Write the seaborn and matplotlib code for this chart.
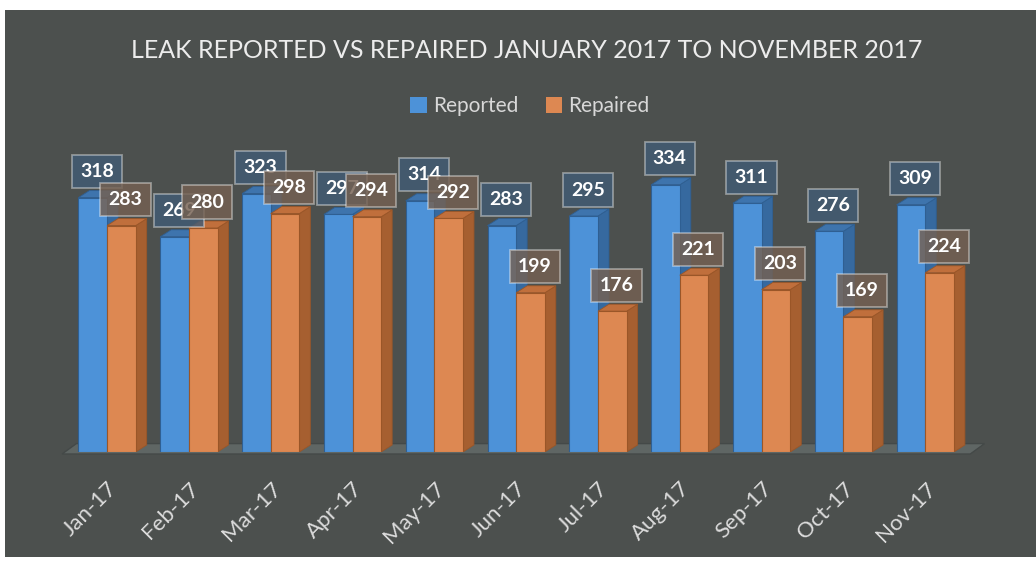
import numpy as np
import pandas as pd
import matplotlib
matplotlib.use("Agg")
import matplotlib.pyplot as plt
import seaborn as sns
from matplotlib.patches import Polygon, Rectangle, Patch

months = ["Jan-17", "Feb-17", "Mar-17", "Apr-17", "May-17", "Jun-17",
          "Jul-17", "Aug-17", "Sep-17", "Oct-17", "Nov-17"]
reported = [318, 269, 323, 297, 314, 283, 295, 334, 311, 276, 309]
repaired = [283, 280, 298, 294, 292, 199, 176, 221, 203, 169, 224]
series_names = ["Reported", "Repaired"]
title = "LEAK REPORTED VS REPAIRED JANUARY 2017 TO NOVEMBER 2017"

df = pd.DataFrame({
    "Month": months * 2,
    "Series": [series_names[0]] * len(months) + [series_names[1]] * len(months),
    "Count": reported + repaired,
})

BG = "#4c504e"
FRONT = ["#4d92d8", "#dd8852"]
SIDE = ["#36699f", "#a65f30"]
TOP = ["#3e74ad", "#c06f3c"]
EDGE = ["#2f5f92", "#9a5628"]
LABEL_BG = [(0.26, 0.36, 0.46, 0.82), (0.46, 0.38, 0.32, 0.82)]

sns.set_theme(style="white")
plt.rcParams["font.family"] = ["Lato", "DejaVu Sans"]

W, H = 1036, 567
fig = plt.figure(figsize=(W / 100, H / 100), dpi=100)
fig.patch.set_facecolor("white")
bg_rect = Rectangle((5 / W, 1 - 557 / H), 1 - 5 / W, (557 - 10) / H,
                    transform=fig.transFigure, facecolor=BG,
                    edgecolor="none", zorder=-10)
fig.patches.append(bg_rect)

# axes geometry (px)
ax_left, ax_right, ax_bottom, ax_top = 55, 985, 452, 140
ax = fig.add_axes([ax_left / W, 1 - ax_bottom / H,
                   (ax_right - ax_left) / W, (ax_bottom - ax_top) / H])
ax.set_facecolor("none")
ax.set_zorder(1)

sns.barplot(data=df, x="Month", y="Count", hue="Series",
            palette=FRONT, width=0.7, saturation=1, ax=ax, legend=True)

xmin, xmax = -0.636, 10.73
ymax = 390
ax.set_xlim(xmin, xmax)
ax.set_ylim(0, ymax)

# depth in data units
px_per_x = (ax_right - ax_left) / (xmax - xmin)
px_per_y = (ax_bottom - ax_top) / ymax
ddx = 11 / px_per_x
ddy = 7 / px_per_y

# floor
floor = Polygon([(-0.55, -2 / px_per_y), (10.55, -2 / px_per_y),
                 (10.55 + ddx * 1.3, ddy * 1.2), (-0.55 + ddx * 1.3, ddy * 1.2)],
                closed=True, facecolor="#5f6664", edgecolor="#444948",
                lw=1, zorder=0.5, clip_on=False)
ax.add_patch(floor)

for si, cont in enumerate(ax.containers):
    for p in cont.patches:
        x0, w, h = p.get_x(), p.get_width(), p.get_height()
        base_z = 1 + si * 2
        p.set_zorder(base_z + 1)
        p.set_edgecolor(EDGE[si])
        p.set_linewidth(0.8)
        side = Polygon([(x0 + w, 0), (x0 + w + ddx, ddy), (x0 + w + ddx, h + ddy),
                        (x0 + w, h)], closed=True, facecolor=SIDE[si],
                       edgecolor=EDGE[si], lw=0.6, zorder=base_z + 0.5)
        top = Polygon([(x0, h), (x0 + w, h), (x0 + w + ddx, h + ddy),
                       (x0 + ddx, h + ddy)], closed=True, facecolor=TOP[si],
                      edgecolor=EDGE[si], lw=0.6, zorder=base_z + 0.5)
        ax.add_patch(side)
        ax.add_patch(top)
        ax.annotate(f"{int(round(h))}", xy=(x0 + w / 2, h), xytext=(3, 18.7),
                    textcoords="offset points", ha="center", va="center",
                    fontsize=14, fontweight="bold", color="white", zorder=10,
                    bbox=dict(boxstyle="square,pad=0.42", fc=LABEL_BG[si],
                              ec=(1, 1, 1, 0.4), lw=1.3))

for sp in ax.spines.values():
    sp.set_visible(False)
ax.set_yticks([])
ax.set_xlabel("")
ax.set_ylabel("")
ax.tick_params(axis="x", length=0, pad=19, colors="#dedede")
ax.set_xticks(range(len(months)))
ax.set_xticklabels(months, rotation=45, ha="right", rotation_mode="anchor",
                   fontsize=16, color="#dcdcdc")

# legend
leg = ax.get_legend()
if leg is not None:
    leg.remove()
handles = [Patch(facecolor=FRONT[i], edgecolor="none") for i in range(2)]
fig.legend(handles, series_names, loc="center", bbox_to_anchor=(530 / W, 1 - 106 / H),
           ncol=2, frameon=False, fontsize=15, labelcolor="#d8d8d8",
           handlelength=0.8, handleheight=0.8, handletextpad=0.3,
           columnspacing=1.3)

fig.text(527 / W, 1 - 50 / H, title, ha="center", va="center",
         fontsize=18, color="#ececec")

fig.savefig("out.png", dpi=100, facecolor=fig.get_facecolor())
